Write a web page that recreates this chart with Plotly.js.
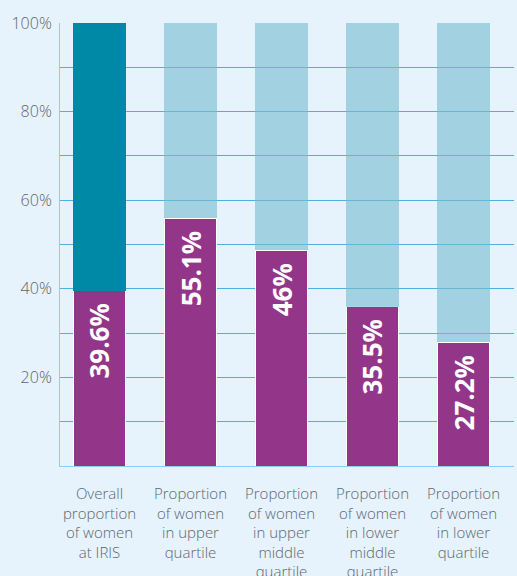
<!DOCTYPE html>
<html>
<head>
<meta charset="utf-8">
<script src="https://cdn.plot.ly/plotly-3.0.1.min.js"></script>
<style>html,body{margin:0;padding:0;background:#e6f2fc;}#chart{width:517px;height:576px;}</style>
</head>
<body>
<div id="chart"></div>
<script>
var categories = [
  "Overall<br>proportion<br>of women<br>at IRIS",
  "Proportion<br>of women<br>in upper<br>quartile",
  "Proportion<br>of women<br>in upper<br>middle<br>quartile",
  "Proportion<br>of women<br>in lower<br>middle<br>quartile",
  "Proportion<br>of women<br>in lower<br>quartile"
];
// bar heights as drawn in the picture (%)
var womenShare = [39.6, 55.9, 48.7, 36.0, 27.9];
// value labels printed on the bars
var valueLabels = ["39.6%", "55.1%", "46%", "35.5%", "27.2%"];
var remainder = womenShare.map(function (v) { return 100 - v; });
var remainderColors = ["#0089a6", "rgba(117,189,209,0.6)", "rgba(117,189,209,0.6)", "rgba(117,189,209,0.6)", "rgba(117,189,209,0.6)"];
var yTickVals = [10, 20, 30, 40, 50, 60, 70, 80, 90, 100];
var yTickText = ["", "20%", "", "40%", "", "60%", "", "80%", "", "100%"];
var xPos = [0, 1, 2, 3, 4];

var traces = [
  {
    type: "bar",
    x: xPos,
    y: womenShare,
    marker: { color: "#93368a", line: { color: "#ffffff", width: 1 } },
    hoverinfo: "skip"
  },
  {
    type: "bar",
    x: xPos,
    y: remainder,
    marker: { color: remainderColors, line: { width: 0 } },
    hoverinfo: "skip"
  }
];

var annotations = xPos.map(function (x, i) {
  return {
    x: x, y: womenShare[i], xref: "x", yref: "y",
    text: valueLabels[i], showarrow: false,
    textangle: -90, xanchor: "center", yanchor: "top", yshift: -11,
    font: { family: "Open Sans", size: 26, color: "#ffffff", weight: "bold" }
  };
});

var layout = {
  width: 517,
  height: 576,
  barmode: "stack",
  bargap: 0.418,
  showlegend: false,
  paper_bgcolor: "#e6f2fc",
  plot_bgcolor: "#e6f2fc",
  margin: { l: 60, r: 3, t: 23, b: 110 },
  font: { family: "Open Sans", color: "#5d6770" },
  annotations: annotations,
  xaxis: {
    range: [-0.434, 4.555],
    tickvals: xPos,
    ticktext: categories,
    tickfont: { family: "Open Sans", size: 15, color: "#5d6770", weight: 300 },
    showgrid: false,
    zeroline: false,
    showline: true,
    linecolor: "#8ccdf0",
    linewidth: 1,
    ticks: "",
    ticklabelstandoff: 14
  },
  yaxis: {
    range: [0, 100],
    tickvals: yTickVals,
    ticktext: yTickText,
    tickfont: { family: "Open Sans", size: 16, color: "#5d6770", weight: 300 },
    showgrid: true,
    gridcolor: "#4fb0e0",
    gridwidth: 1,
    zeroline: false,
    showline: true,
    linecolor: "#8ccdf0",
    linewidth: 1,
    ticks: "",
    ticklabelstandoff: 4
  }
};

Plotly.newPlot("chart", traces, layout, { displayModeBar: false, staticPlot: true });
</script>
</body>
</html>
